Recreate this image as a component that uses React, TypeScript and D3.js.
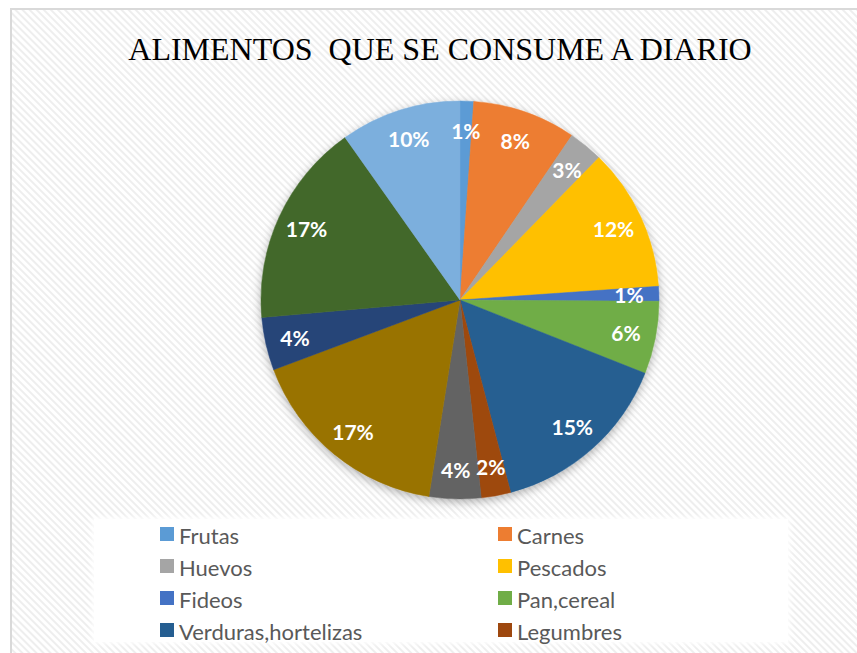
import React from 'react';
import * as d3 from 'd3';

// share of each food group (labels are rounded)
const categories = [
  'Frutas', 'Carnes', 'Huevos', 'Pescados', 'Fideos', 'Pan,cereal',
  'Verduras,hortelizas', 'Legumbres', 'Lácteos', 'Arroz', 'Azúcar', 'Papas', 'Aceites',
];
const values = [1.1, 8.4, 2.8, 11.6, 1.2, 5.9, 14.9, 2.4, 4.2, 16.8, 4.3, 16.6, 9.8];
const colors = [
  '#5B9BD5', '#ED7D31', '#A5A5A5', '#FFC000', '#4472C4', '#70AD47',
  '#255E91', '#9E480E', '#636363', '#997300', '#264478', '#43682B', '#7CAFDD',
];
// Excel only had room for the first eight legend entries
const legendCount = 8;

const W = 857, H = 653;
const cx = 460, cy = 300, radius = 199;

const App = () => {
  const total = d3.sum(values);
  const pie = d3.pie<number>().sort(null).value((d) => d);
  const arcs = pie(values);
  const arc = d3.arc<d3.PieArcDatum<number>>().innerRadius(0).outerRadius(radius);
  const labelArc = d3.arc<d3.PieArcDatum<number>>()
    .innerRadius(radius * 0.85)
    .outerRadius(radius * 0.85);
  const color = d3.scaleOrdinal<string, string>().domain(categories).range(colors);

  const legendItems = categories.slice(0, legendCount);

  return (
    <svg width={W} height={H} style={{ position: 'absolute', left: 0, top: 0 }}>
      <defs>
        <pattern id="hatch" width="5" height="5" patternUnits="userSpaceOnUse"
          patternTransform="rotate(45)">
          <rect width="5" height="5" fill="#ffffff" />
          <rect width="5" height="2" fill="#eeeeee" />
        </pattern>
        <filter id="shadow" x="-20%" y="-20%" width="140%" height="140%">
          <feDropShadow dx="0" dy="3" stdDeviation="5" floodColor="#000" floodOpacity="0.3" />
        </filter>
        <filter id="soft" x="-10%" y="-10%" width="120%" height="120%">
          <feGaussianBlur stdDeviation="2" />
        </filter>
      </defs>

      <rect x={0} y={0} width={W} height={H} fill="#ffffff" />
      <rect x={11} y={9} width={W + 20} height={H + 20} fill="url(#hatch)"
        stroke="#d9d9d9" strokeWidth={2} />

      <text x={440} y={60} textAnchor="middle" fontFamily="'Liberation Serif', 'Times New Roman', serif"
        fontSize={32} fill="#000" style={{ whiteSpace: 'pre' }}>
        {'ALIMENTOS  QUE SE CONSUME A DIARIO'}
      </text>

      <g transform={`translate(${cx}, ${cy})`}>
        <g filter="url(#shadow)">
          {arcs.map((a, i) => (
            <path key={i} d={arc(a) || ''} fill={color(categories[i])}
              stroke={color(categories[i])} strokeWidth={0.5} />
          ))}
        </g>
        {arcs.map((a, i) => {
          const [x, y] = labelArc.centroid(a);
          return (
            <text key={i} x={x} y={y} textAnchor="middle" dominantBaseline="central"
              fontFamily="Lato, 'Open Sans', sans-serif" fontWeight="bold" fontSize={21}
              fill="#ffffff">
              {d3.format('.0%')(a.data / total)}
            </text>
          );
        })}
      </g>

      <rect x={92} y={517} width={698} height={127} fill="#ffffff" filter="url(#soft)" opacity={0.9} />
      <rect x={94} y={519} width={694} height={123} fill="#ffffff" />
      <g fontFamily="Lato, 'Open Sans', sans-serif" fontSize={22} fill="#595959">
        {legendItems.map((name, i) => {
          const col = i % 2, row = Math.floor(i / 2);
          const x = 160 + col * 338;
          const y = 534 + row * 32;
          return (
            <g key={name} transform={`translate(${x}, ${y})`}>
              <rect x={0} y={-7} width={14} height={14} fill={color(name)} />
              <text x={19} y={1} dominantBaseline="central">{name}</text>
            </g>
          );
        })}
      </g>
    </svg>
  );
};

export default App;
